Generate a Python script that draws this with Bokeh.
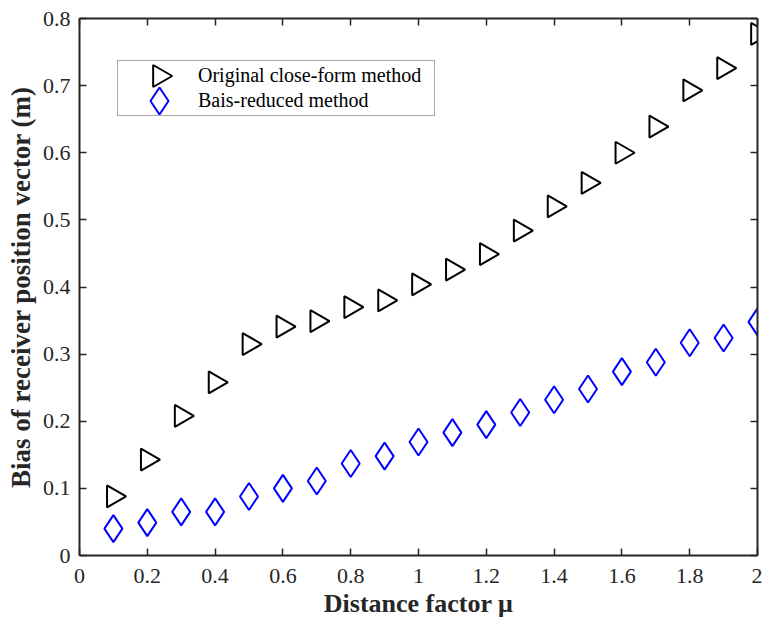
import numpy as np
from bokeh.plotting import figure
from bokeh.models import LinearAxis, Range1d, Legend, LegendItem, FixedTicker
from bokeh.embed import file_html
from bokeh.resources import INLINE

mu = [0.1, 0.2, 0.3, 0.4, 0.5, 0.6, 0.7, 0.8, 0.9, 1.0,
      1.1, 1.2, 1.3, 1.4, 1.5, 1.6, 1.7, 1.8, 1.9, 2.0]
original = [0.088, 0.143, 0.208, 0.258, 0.315, 0.341, 0.349, 0.370, 0.380, 0.404,
            0.426, 0.449, 0.484, 0.520, 0.555, 0.600, 0.639, 0.693, 0.726, 0.777]
reduced = [0.040, 0.049, 0.065, 0.065, 0.088, 0.100, 0.111, 0.137, 0.148, 0.169,
           0.183, 0.195, 0.213, 0.232, 0.248, 0.274, 0.288, 0.317, 0.324, 0.348]
series_names = ["Original close-form method", "Bais-reduced method"]
x_ticks = [0, 0.2, 0.4, 0.6, 0.8, 1.0, 1.2, 1.4, 1.6, 1.8, 2.0]
y_ticks = [0, 0.1, 0.2, 0.3, 0.4, 0.5, 0.6, 0.7, 0.8]
x_tick_labels = {0: "0", 0.2: "0.2", 0.4: "0.4", 0.6: "0.6", 0.8: "0.8", 1.0: "1",
                 1.2: "1.2", 1.4: "1.4", 1.6: "1.6", 1.8: "1.8", 2.0: "2"}
y_tick_labels = {0: "0", 0.1: "0.1", 0.2: "0.2", 0.3: "0.3", 0.4: "0.4",
                 0.5: "0.5", 0.6: "0.6", 0.7: "0.7", 0.8: "0.8"}

FONT = "Liberation Serif"
AX = "#262626"

# frame geometry (pixels) used to place the legend keys
W, H = 762, 623
FL, FR, FT, FB = 79, 5, 18, 68
frame_w = W - FL - FR
frame_h = H - FT - FB
X0, X1, Y0, Y1 = 0, 2, 0, 0.8

p = figure(width=W, height=H, output_backend="svg", toolbar_location=None,
           x_range=Range1d(X0, X1), y_range=Range1d(Y0, Y1),
           min_border_left=FL, min_border_right=FR, min_border_top=FT, min_border_bottom=FB)
p.background_fill_color = "white"
p.border_fill_color = "white"
p.outline_line_color = None
p.grid.visible = False

def style_axis(ax, ticks, labels, show_labels=True, standoff=8):
    ax.ticker = FixedTicker(ticks=ticks)
    ax.major_label_overrides = labels
    ax.axis_line_color = AX
    ax.axis_line_width = 2
    ax.major_tick_line_color = AX
    ax.major_tick_line_width = 1.5
    ax.major_tick_in = 7
    ax.major_tick_out = 0
    ax.minor_tick_line_color = None
    ax.major_label_text_font = FONT
    if show_labels:
        ax.major_label_text_color = AX
        ax.major_label_text_font_size = "22px"
        ax.major_label_standoff = standoff
    else:
        ax.major_label_text_color = None
        ax.major_label_text_font_size = "1px"
        ax.major_label_standoff = 0

style_axis(p.xaxis[0], x_ticks, x_tick_labels, standoff=13)
style_axis(p.yaxis[0], y_ticks, y_tick_labels, standoff=9)
for ax, txt, so, fs in [(p.yaxis[0], "Bias of receiver position vector (m)", 4, "27px"),
                        (p.xaxis[0], "Distance factor μ", 3, "26px")]:
    ax.axis_label = txt
    ax.axis_label_text_font = FONT
    ax.axis_label_text_font_style = "bold"
    ax.axis_label_text_font_size = fs
    ax.axis_label_text_color = AX
    ax.axis_label_standoff = so

top = LinearAxis()
right = LinearAxis()
style_axis(top, x_ticks, {}, show_labels=False)
style_axis(right, y_ticks, {}, show_labels=False)
p.add_layout(top, "above")
p.add_layout(right, "right")

tri_style = dict(marker="triangle", size=22, angle=-np.pi / 2,
                 fill_color=None, line_color="black", line_width=2)
dia_style = dict(marker="diamond", size=27,
                 fill_color=None, line_color="#0000ff", line_width=2)

p.scatter(mu, original, **tri_style)
p.scatter(mu, reduced, **dia_style)

# legend: Bokeh legend for box + labels (transparent), with hidden key glyphs
d1 = p.scatter([], [], marker="triangle", fill_alpha=0, line_alpha=0)
d2 = p.scatter([], [], marker="diamond", fill_alpha=0, line_alpha=0)
LEG_X, LEG_TOP, PAD, ROW, KEY_W = 38, 44, 2, 25, 78
legend = Legend(items=[LegendItem(label=series_names[0], renderers=[d1]),
                       LegendItem(label=series_names[1], renderers=[d2])],
                location=(LEG_X, frame_h - LEG_TOP - 2 * ROW - 2 * PAD))
legend.label_text_font = FONT
legend.label_text_font_size = "20px"
legend.label_text_color = "black"
legend.glyph_width = KEY_W
legend.glyph_height = ROW
legend.label_height = ROW
legend.label_width = 234
legend.label_standoff = 0
legend.padding = PAD
legend.spacing = 0
legend.margin = 0
legend.border_line_color = "#555555"
legend.border_line_width = 1
legend.background_fill_color = None
legend.background_fill_alpha = 0
p.add_layout(legend)

# visible legend keys drawn in the legend's key slots
def px_to_x(px):
    return X0 + (px / frame_w) * (X1 - X0)

def py_to_y(py):
    return Y1 - (py / frame_h) * (Y1 - Y0)

kx = px_to_x(LEG_X + PAD + KEY_W / 2 + 1)
k1 = py_to_y(LEG_TOP + PAD + ROW / 2 - 1)
k2 = py_to_y(LEG_TOP + PAD + ROW * 1.5 - 1)
p.scatter([kx], [k1], **tri_style)
p.scatter([kx], [k2], **dia_style)

open("out.html", "w").write(file_html(p, INLINE))
